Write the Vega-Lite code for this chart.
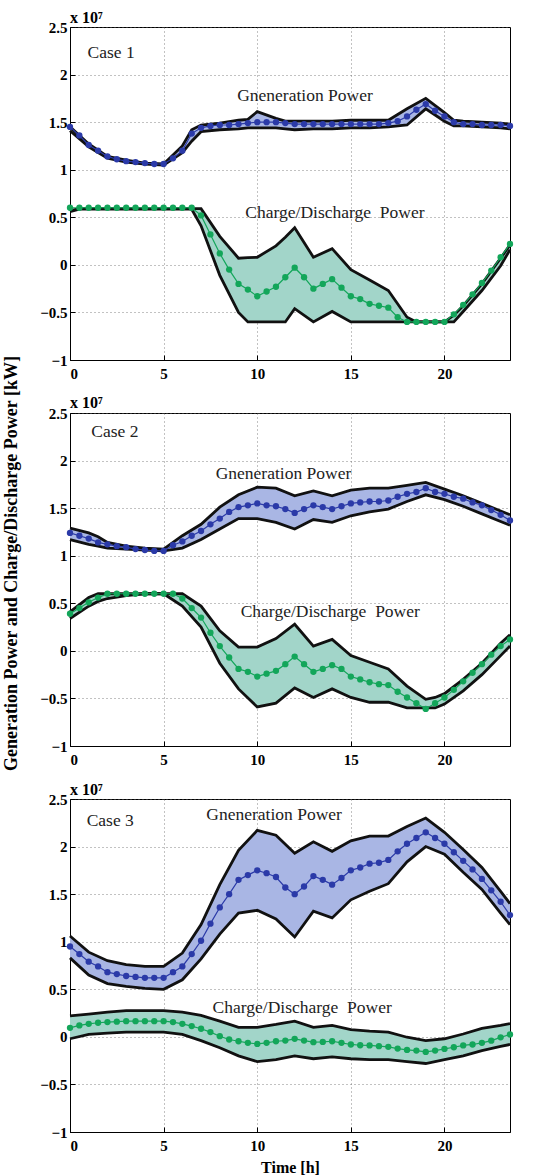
{
  "$schema": "https://vega.github.io/schema/vega-lite/v6.json",
  "padding": {"left": 2, "top": 9, "right": 5, "bottom": 2},
  "background": "white",
  "bounds": "flush",
  "spacing": 53,
  "config": {
    "font": "Liberation Serif",
    "view": {"stroke": "black", "strokeWidth": 1},
    "axis": {
      "labelFont": "Liberation Serif", "labelFontWeight": "bold", "labelFontSize": 15, "labelColor": "black",
      "titleFont": "Liberation Serif", "titleFontWeight": "bold", "titleFontSize": 16, "titleColor": "black",
      "grid": true, "gridColor": "#666", "gridDash": [1, 3], "gridWidth": 0.8,
      "domainColor": "black", "tickColor": "black", "tickSize": -5, "labelPadding": 8
    },
    "axisX": {"labelPadding": 11},
    "title": {"font": "Liberation Serif", "fontSize": 16, "fontWeight": "bold", "anchor": "start", "frame": "group", "color": "black", "offset": -6}
  },
  "datasets": {
    "band": [
      {"c":1,"s":"g","t":0,"lo":1.41,"hi":1.45},{"c":1,"s":"g","t":1,"lo":1.24,"hi":1.27},{"c":1,"s":"g","t":2,"lo":1.12,"hi":1.14},{"c":1,"s":"g","t":3,"lo":1.08,"hi":1.10},{"c":1,"s":"g","t":4,"lo":1.06,"hi":1.07},{"c":1,"s":"g","t":5,"lo":1.05,"hi":1.06},{"c":1,"s":"g","t":6,"lo":1.18,"hi":1.25},{"c":1,"s":"g","t":6.5,"lo":1.30,"hi":1.42},{"c":1,"s":"g","t":7,"lo":1.40,"hi":1.47},{"c":1,"s":"g","t":8,"lo":1.42,"hi":1.49},{"c":1,"s":"g","t":9,"lo":1.43,"hi":1.52},{"c":1,"s":"g","t":9.5,"lo":1.44,"hi":1.53},{"c":1,"s":"g","t":10,"lo":1.44,"hi":1.61},{"c":1,"s":"g","t":11,"lo":1.44,"hi":1.54},{"c":1,"s":"g","t":11.5,"lo":1.43,"hi":1.51},{"c":1,"s":"g","t":12,"lo":1.42,"hi":1.51},{"c":1,"s":"g","t":13,"lo":1.43,"hi":1.51},{"c":1,"s":"g","t":14,"lo":1.43,"hi":1.51},{"c":1,"s":"g","t":15,"lo":1.44,"hi":1.52},{"c":1,"s":"g","t":16,"lo":1.44,"hi":1.52},{"c":1,"s":"g","t":17,"lo":1.45,"hi":1.52},{"c":1,"s":"g","t":18,"lo":1.47,"hi":1.64},{"c":1,"s":"g","t":19,"lo":1.64,"hi":1.75},{"c":1,"s":"g","t":20,"lo":1.51,"hi":1.60},{"c":1,"s":"g","t":20.5,"lo":1.46,"hi":1.52},{"c":1,"s":"g","t":21,"lo":1.46,"hi":1.51},{"c":1,"s":"g","t":22,"lo":1.45,"hi":1.50},{"c":1,"s":"g","t":23,"lo":1.44,"hi":1.49},{"c":1,"s":"g","t":23.5,"lo":1.43,"hi":1.48},
      {"c":1,"s":"d","t":0,"lo":0.56,"hi":0.57},{"c":1,"s":"d","t":0.5,"lo":0.585,"hi":0.59},{"c":1,"s":"d","t":6.5,"lo":0.585,"hi":0.59},{"c":1,"s":"d","t":7,"lo":0.41,"hi":0.59},{"c":1,"s":"d","t":8,"lo":-0.11,"hi":0.30},{"c":1,"s":"d","t":9,"lo":-0.50,"hi":0.07},{"c":1,"s":"d","t":9.5,"lo":-0.60,"hi":0.075},{"c":1,"s":"d","t":10,"lo":-0.60,"hi":0.08},{"c":1,"s":"d","t":11,"lo":-0.60,"hi":0.20},{"c":1,"s":"d","t":11.5,"lo":-0.60,"hi":0.29},{"c":1,"s":"d","t":12,"lo":-0.46,"hi":0.39},{"c":1,"s":"d","t":13,"lo":-0.60,"hi":0.08},{"c":1,"s":"d","t":14,"lo":-0.49,"hi":0.17},{"c":1,"s":"d","t":15,"lo":-0.60,"hi":-0.05},{"c":1,"s":"d","t":16,"lo":-0.60,"hi":-0.16},{"c":1,"s":"d","t":17,"lo":-0.60,"hi":-0.27},{"c":1,"s":"d","t":18,"lo":-0.60,"hi":-0.55},{"c":1,"s":"d","t":18.5,"lo":-0.60,"hi":-0.60},{"c":1,"s":"d","t":20,"lo":-0.60,"hi":-0.60},{"c":1,"s":"d","t":20.5,"lo":-0.60,"hi":-0.53},{"c":1,"s":"d","t":21,"lo":-0.49,"hi":-0.43},{"c":1,"s":"d","t":22,"lo":-0.27,"hi":-0.20},{"c":1,"s":"d","t":23,"lo":-0.01,"hi":0.07},{"c":1,"s":"d","t":23.5,"lo":0.16,"hi":0.21},
      {"c":2,"s":"g","t":0,"lo":1.17,"hi":1.29},{"c":2,"s":"g","t":1,"lo":1.12,"hi":1.24},{"c":2,"s":"g","t":1.5,"lo":1.10,"hi":1.20},{"c":2,"s":"g","t":2,"lo":1.08,"hi":1.14},{"c":2,"s":"g","t":3,"lo":1.07,"hi":1.10},{"c":2,"s":"g","t":4,"lo":1.06,"hi":1.08},{"c":2,"s":"g","t":5,"lo":1.05,"hi":1.07},{"c":2,"s":"g","t":6,"lo":1.08,"hi":1.21},{"c":2,"s":"g","t":7,"lo":1.17,"hi":1.33},{"c":2,"s":"g","t":8,"lo":1.28,"hi":1.51},{"c":2,"s":"g","t":9,"lo":1.39,"hi":1.64},{"c":2,"s":"g","t":10,"lo":1.39,"hi":1.72},{"c":2,"s":"g","t":11,"lo":1.35,"hi":1.71},{"c":2,"s":"g","t":12,"lo":1.28,"hi":1.63},{"c":2,"s":"g","t":13,"lo":1.38,"hi":1.68},{"c":2,"s":"g","t":14,"lo":1.35,"hi":1.63},{"c":2,"s":"g","t":15,"lo":1.42,"hi":1.69},{"c":2,"s":"g","t":16,"lo":1.46,"hi":1.71},{"c":2,"s":"g","t":17,"lo":1.49,"hi":1.71},{"c":2,"s":"g","t":18,"lo":1.57,"hi":1.74},{"c":2,"s":"g","t":19,"lo":1.64,"hi":1.77},{"c":2,"s":"g","t":20,"lo":1.59,"hi":1.70},{"c":2,"s":"g","t":21,"lo":1.52,"hi":1.63},{"c":2,"s":"g","t":22,"lo":1.44,"hi":1.55},{"c":2,"s":"g","t":23,"lo":1.36,"hi":1.47},{"c":2,"s":"g","t":23.5,"lo":1.32,"hi":1.43},
      {"c":2,"s":"d","t":0,"lo":0.34,"hi":0.41},{"c":2,"s":"d","t":1,"lo":0.47,"hi":0.56},{"c":2,"s":"d","t":1.5,"lo":0.52,"hi":0.60},{"c":2,"s":"d","t":2,"lo":0.55,"hi":0.60},{"c":2,"s":"d","t":3,"lo":0.58,"hi":0.60},{"c":2,"s":"d","t":4,"lo":0.60,"hi":0.60},{"c":2,"s":"d","t":5,"lo":0.60,"hi":0.60},{"c":2,"s":"d","t":6,"lo":0.47,"hi":0.60},{"c":2,"s":"d","t":7,"lo":0.25,"hi":0.47},{"c":2,"s":"d","t":8,"lo":-0.13,"hi":0.21},{"c":2,"s":"d","t":9,"lo":-0.40,"hi":0.04},{"c":2,"s":"d","t":10,"lo":-0.59,"hi":0.04},{"c":2,"s":"d","t":11,"lo":-0.55,"hi":0.13},{"c":2,"s":"d","t":12,"lo":-0.39,"hi":0.28},{"c":2,"s":"d","t":13,"lo":-0.49,"hi":0.05},{"c":2,"s":"d","t":14,"lo":-0.40,"hi":0.12},{"c":2,"s":"d","t":15,"lo":-0.49,"hi":-0.05},{"c":2,"s":"d","t":16,"lo":-0.54,"hi":-0.12},{"c":2,"s":"d","t":17,"lo":-0.54,"hi":-0.19},{"c":2,"s":"d","t":18,"lo":-0.60,"hi":-0.37},{"c":2,"s":"d","t":19,"lo":-0.60,"hi":-0.51},{"c":2,"s":"d","t":19.5,"lo":-0.60,"hi":-0.49},{"c":2,"s":"d","t":20,"lo":-0.56,"hi":-0.45},{"c":2,"s":"d","t":21,"lo":-0.42,"hi":-0.30},{"c":2,"s":"d","t":22,"lo":-0.25,"hi":-0.13},{"c":2,"s":"d","t":23,"lo":-0.05,"hi":0.08},{"c":2,"s":"d","t":23.5,"lo":0.05,"hi":0.17},
      {"c":3,"s":"g","t":0,"lo":0.83,"hi":1.06},{"c":3,"s":"g","t":1,"lo":0.65,"hi":0.89},{"c":3,"s":"g","t":2,"lo":0.56,"hi":0.80},{"c":3,"s":"g","t":3,"lo":0.53,"hi":0.76},{"c":3,"s":"g","t":4,"lo":0.51,"hi":0.74},{"c":3,"s":"g","t":5,"lo":0.50,"hi":0.74},{"c":3,"s":"g","t":6,"lo":0.60,"hi":0.88},{"c":3,"s":"g","t":7,"lo":0.82,"hi":1.18},{"c":3,"s":"g","t":8,"lo":1.08,"hi":1.60},{"c":3,"s":"g","t":9,"lo":1.30,"hi":1.96},{"c":3,"s":"g","t":10,"lo":1.33,"hi":2.17},{"c":3,"s":"g","t":11,"lo":1.24,"hi":2.12},{"c":3,"s":"g","t":12,"lo":1.05,"hi":1.93},{"c":3,"s":"g","t":13,"lo":1.32,"hi":2.05},{"c":3,"s":"g","t":14,"lo":1.25,"hi":1.95},{"c":3,"s":"g","t":15,"lo":1.44,"hi":2.06},{"c":3,"s":"g","t":16,"lo":1.53,"hi":2.11},{"c":3,"s":"g","t":17,"lo":1.61,"hi":2.11},{"c":3,"s":"g","t":18,"lo":1.84,"hi":2.21},{"c":3,"s":"g","t":19,"lo":2.00,"hi":2.30},{"c":3,"s":"g","t":20,"lo":1.92,"hi":2.15},{"c":3,"s":"g","t":21,"lo":1.73,"hi":1.97},{"c":3,"s":"g","t":22,"lo":1.55,"hi":1.78},{"c":3,"s":"g","t":23,"lo":1.30,"hi":1.53},{"c":3,"s":"g","t":23.5,"lo":1.18,"hi":1.40},
      {"c":3,"s":"d","t":0,"lo":-0.02,"hi":0.22},{"c":3,"s":"d","t":1,"lo":0.025,"hi":0.24},{"c":3,"s":"d","t":2,"lo":0.04,"hi":0.26},{"c":3,"s":"d","t":3,"lo":0.05,"hi":0.275},{"c":3,"s":"d","t":5,"lo":0.05,"hi":0.275},{"c":3,"s":"d","t":6,"lo":0.025,"hi":0.26},{"c":3,"s":"d","t":7,"lo":-0.04,"hi":0.225},{"c":3,"s":"d","t":8,"lo":-0.115,"hi":0.165},{"c":3,"s":"d","t":9,"lo":-0.20,"hi":0.10},{"c":3,"s":"d","t":10,"lo":-0.26,"hi":0.10},{"c":3,"s":"d","t":11,"lo":-0.24,"hi":0.13},{"c":3,"s":"d","t":12,"lo":-0.20,"hi":0.165},{"c":3,"s":"d","t":13,"lo":-0.23,"hi":0.10},{"c":3,"s":"d","t":14,"lo":-0.21,"hi":0.12},{"c":3,"s":"d","t":15,"lo":-0.23,"hi":0.077},{"c":3,"s":"d","t":16,"lo":-0.24,"hi":0.06},{"c":3,"s":"d","t":17,"lo":-0.24,"hi":0.05},{"c":3,"s":"d","t":18,"lo":-0.26,"hi":-0.004},{"c":3,"s":"d","t":19,"lo":-0.28,"hi":-0.04},{"c":3,"s":"d","t":20,"lo":-0.24,"hi":-0.02},{"c":3,"s":"d","t":21,"lo":-0.20,"hi":0.03},{"c":3,"s":"d","t":22,"lo":-0.145,"hi":0.09},{"c":3,"s":"d","t":23,"lo":-0.10,"hi":0.12},{"c":3,"s":"d","t":23.5,"lo":-0.08,"hi":0.14}
    ],
    "avg": [
      {"c":1,"t":0,"g":1.45,"d":0.6},{"c":1,"t":0.5,"g":1.36,"d":0.6},{"c":1,"t":1,"g":1.26,"d":0.6},{"c":1,"t":1.5,"g":1.20,"d":0.6},{"c":1,"t":2,"g":1.14,"d":0.6},{"c":1,"t":2.5,"g":1.11,"d":0.6},{"c":1,"t":3,"g":1.09,"d":0.6},{"c":1,"t":3.5,"g":1.08,"d":0.6},{"c":1,"t":4,"g":1.07,"d":0.6},{"c":1,"t":4.5,"g":1.06,"d":0.6},{"c":1,"t":5,"g":1.06,"d":0.6},{"c":1,"t":5.5,"g":1.12,"d":0.6},{"c":1,"t":6,"g":1.20,"d":0.6},{"c":1,"t":6.5,"g":1.38,"d":0.6},{"c":1,"t":7,"g":1.44,"d":0.52},{"c":1,"t":7.5,"g":1.46,"d":0.32},{"c":1,"t":8,"g":1.47,"d":0.12},{"c":1,"t":8.5,"g":1.47,"d":-0.05},{"c":1,"t":9,"g":1.48,"d":-0.20},{"c":1,"t":9.5,"g":1.49,"d":-0.26},{"c":1,"t":10,"g":1.50,"d":-0.33},{"c":1,"t":10.5,"g":1.50,"d":-0.28},{"c":1,"t":11,"g":1.50,"d":-0.23},{"c":1,"t":11.5,"g":1.49,"d":-0.13},{"c":1,"t":12,"g":1.48,"d":-0.03},{"c":1,"t":12.5,"g":1.48,"d":-0.13},{"c":1,"t":13,"g":1.48,"d":-0.25},{"c":1,"t":13.5,"g":1.48,"d":-0.20},{"c":1,"t":14,"g":1.48,"d":-0.15},{"c":1,"t":14.5,"g":1.48,"d":-0.24},{"c":1,"t":15,"g":1.48,"d":-0.33},{"c":1,"t":15.5,"g":1.48,"d":-0.36},{"c":1,"t":16,"g":1.48,"d":-0.41},{"c":1,"t":16.5,"g":1.48,"d":-0.43},{"c":1,"t":17,"g":1.49,"d":-0.45},{"c":1,"t":17.5,"g":1.51,"d":-0.55},{"c":1,"t":18,"g":1.56,"d":-0.60},{"c":1,"t":18.5,"g":1.63,"d":-0.60},{"c":1,"t":19,"g":1.69,"d":-0.60},{"c":1,"t":19.5,"g":1.62,"d":-0.60},{"c":1,"t":20,"g":1.56,"d":-0.60},{"c":1,"t":20.5,"g":1.50,"d":-0.52},{"c":1,"t":21,"g":1.48,"d":-0.42},{"c":1,"t":21.5,"g":1.48,"d":-0.31},{"c":1,"t":22,"g":1.47,"d":-0.19},{"c":1,"t":22.5,"g":1.47,"d":-0.06},{"c":1,"t":23,"g":1.47,"d":0.08},{"c":1,"t":23.5,"g":1.46,"d":0.22},
      {"c":2,"t":0,"g":1.24,"d":0.39},{"c":2,"t":0.5,"g":1.21,"d":0.45},{"c":2,"t":1,"g":1.18,"d":0.51},{"c":2,"t":1.5,"g":1.14,"d":0.56},{"c":2,"t":2,"g":1.12,"d":0.60},{"c":2,"t":2.5,"g":1.10,"d":0.60},{"c":2,"t":3,"g":1.09,"d":0.60},{"c":2,"t":3.5,"g":1.07,"d":0.60},{"c":2,"t":4,"g":1.06,"d":0.60},{"c":2,"t":4.5,"g":1.05,"d":0.60},{"c":2,"t":5,"g":1.05,"d":0.60},{"c":2,"t":5.5,"g":1.11,"d":0.60},{"c":2,"t":6,"g":1.15,"d":0.55},{"c":2,"t":6.5,"g":1.21,"d":0.45},{"c":2,"t":7,"g":1.26,"d":0.35},{"c":2,"t":7.5,"g":1.33,"d":0.19},{"c":2,"t":8,"g":1.39,"d":0.05},{"c":2,"t":8.5,"g":1.46,"d":-0.07},{"c":2,"t":9,"g":1.51,"d":-0.19},{"c":2,"t":9.5,"g":1.53,"d":-0.22},{"c":2,"t":10,"g":1.55,"d":-0.27},{"c":2,"t":10.5,"g":1.53,"d":-0.24},{"c":2,"t":11,"g":1.52,"d":-0.21},{"c":2,"t":11.5,"g":1.49,"d":-0.14},{"c":2,"t":12,"g":1.45,"d":-0.06},{"c":2,"t":12.5,"g":1.49,"d":-0.14},{"c":2,"t":13,"g":1.53,"d":-0.22},{"c":2,"t":13.5,"g":1.51,"d":-0.19},{"c":2,"t":14,"g":1.49,"d":-0.15},{"c":2,"t":14.5,"g":1.52,"d":-0.19},{"c":2,"t":15,"g":1.55,"d":-0.27},{"c":2,"t":15.5,"g":1.56,"d":-0.30},{"c":2,"t":16,"g":1.57,"d":-0.33},{"c":2,"t":16.5,"g":1.57,"d":-0.35},{"c":2,"t":17,"g":1.58,"d":-0.36},{"c":2,"t":17.5,"g":1.62,"d":-0.43},{"c":2,"t":18,"g":1.65,"d":-0.49},{"c":2,"t":18.5,"g":1.67,"d":-0.55},{"c":2,"t":19,"g":1.71,"d":-0.61},{"c":2,"t":19.5,"g":1.67,"d":-0.55},{"c":2,"t":20,"g":1.65,"d":-0.49},{"c":2,"t":20.5,"g":1.62,"d":-0.41},{"c":2,"t":21,"g":1.60,"d":-0.32},{"c":2,"t":21.5,"g":1.56,"d":-0.23},{"c":2,"t":22,"g":1.53,"d":-0.14},{"c":2,"t":22.5,"g":1.48,"d":-0.04},{"c":2,"t":23,"g":1.43,"d":0.05},{"c":2,"t":23.5,"g":1.37,"d":0.12},
      {"c":3,"t":0,"g":0.95,"d":0.095},{"c":3,"t":0.5,"g":0.87,"d":0.12},{"c":3,"t":1,"g":0.79,"d":0.137},{"c":3,"t":1.5,"g":0.74,"d":0.148},{"c":3,"t":2,"g":0.68,"d":0.155},{"c":3,"t":2.5,"g":0.66,"d":0.16},{"c":3,"t":3,"g":0.64,"d":0.165},{"c":3,"t":3.5,"g":0.63,"d":0.165},{"c":3,"t":4,"g":0.62,"d":0.165},{"c":3,"t":4.5,"g":0.62,"d":0.165},{"c":3,"t":5,"g":0.62,"d":0.165},{"c":3,"t":5.5,"g":0.68,"d":0.155},{"c":3,"t":6,"g":0.74,"d":0.137},{"c":3,"t":6.5,"g":0.87,"d":0.113},{"c":3,"t":7,"g":1.01,"d":0.085},{"c":3,"t":7.5,"g":1.19,"d":0.05},{"c":3,"t":8,"g":1.36,"d":0.007},{"c":3,"t":8.5,"g":1.50,"d":-0.028},{"c":3,"t":9,"g":1.65,"d":-0.046},{"c":3,"t":9.5,"g":1.70,"d":-0.063},{"c":3,"t":10,"g":1.75,"d":-0.074},{"c":3,"t":10.5,"g":1.72,"d":-0.063},{"c":3,"t":11,"g":1.68,"d":-0.046},{"c":3,"t":11.5,"g":1.57,"d":-0.039},{"c":3,"t":12,"g":1.50,"d":-0.021},{"c":3,"t":12.5,"g":1.58,"d":-0.039},{"c":3,"t":13,"g":1.69,"d":-0.056},{"c":3,"t":13.5,"g":1.65,"d":-0.053},{"c":3,"t":14,"g":1.60,"d":-0.046},{"c":3,"t":14.5,"g":1.67,"d":-0.063},{"c":3,"t":15,"g":1.75,"d":-0.08},{"c":3,"t":15.5,"g":1.78,"d":-0.088},{"c":3,"t":16,"g":1.82,"d":-0.09},{"c":3,"t":16.5,"g":1.83,"d":-0.098},{"c":3,"t":17,"g":1.86,"d":-0.105},{"c":3,"t":17.5,"g":1.95,"d":-0.123},{"c":3,"t":18,"g":2.03,"d":-0.137},{"c":3,"t":18.5,"g":2.09,"d":-0.144},{"c":3,"t":19,"g":2.15,"d":-0.158},{"c":3,"t":19.5,"g":2.09,"d":-0.144},{"c":3,"t":20,"g":2.03,"d":-0.127},{"c":3,"t":20.5,"g":1.94,"d":-0.109},{"c":3,"t":21,"g":1.85,"d":-0.09},{"c":3,"t":21.5,"g":1.76,"d":-0.08},{"c":3,"t":22,"g":1.66,"d":-0.063},{"c":3,"t":22.5,"g":1.54,"d":-0.04},{"c":3,"t":23,"g":1.42,"d":-0.005},{"c":3,"t":23.5,"g":1.28,"d":0.025}
    ],
    "notes": [
      {"c":1,"t":2.2,"v":2.23,"text":"Case 1"},{"c":1,"t":12.55,"v":1.77,"text":"Gneneration Power"},{"c":1,"t":14.15,"v":0.54,"text":"Charge/Discharge\u00a0 Power"},
      {"c":2,"t":2.4,"v":2.3,"text":"Case 2"},{"c":2,"t":11.4,"v":1.86,"text":"Gneneration Power"},{"c":2,"t":13.9,"v":0.41,"text":"Charge/Discharge\u00a0 Power"},
      {"c":3,"t":2.15,"v":2.27,"text":"Case 3"},{"c":3,"t":10.9,"v":2.33,"text":"Gneneration Power"},{"c":3,"t":12.4,"v":0.30,"text":"Charge/Discharge\u00a0 Power"}
    ]
  },
  "vconcat": [
    {
      "width": 440, "height": 333,
      "title": {"text": "x 10⁷"},
      "layer": [
        {"data": {"name": "band"}, "transform": [{"filter": "datum.c == 1"}],
         "mark": {"type": "area", "opacity": 1},
         "encoding": {
           "x": {"field": "t", "type": "quantitative", "scale": {"domain": [0, 23.5], "nice": false, "zero": false}, "axis": {"title": null, "values": [0, 5, 10, 15, 20], "format": "d"}},
           "y": {"field": "lo", "type": "quantitative", "scale": {"domain": [-1, 2.5], "nice": false}, "axis": {"title": null, "values": [-1, -0.5, 0, 0.5, 1, 1.5, 2, 2.5], "format": "~g"}},
           "y2": {"field": "hi"},
           "fill": {"field": "s", "type": "nominal", "scale": {"domain": ["g", "d"], "range": ["#a9b6e4", "#a2d5c9"]}, "legend": null}}},
        {"data": {"name": "band"}, "transform": [{"filter": "datum.c == 1"}],
         "mark": {"type": "line", "color": "#111", "strokeWidth": 2.8},
         "encoding": {"x": {"field": "t", "type": "quantitative"}, "y": {"field": "lo", "type": "quantitative"}, "detail": {"field": "s"}}},
        {"data": {"name": "band"}, "transform": [{"filter": "datum.c == 1"}],
         "mark": {"type": "line", "color": "#111", "strokeWidth": 2.8},
         "encoding": {"x": {"field": "t", "type": "quantitative"}, "y": {"field": "hi", "type": "quantitative"}, "detail": {"field": "s"}}},
        {"data": {"name": "avg"}, "transform": [{"filter": "datum.c == 1"}, {"fold": ["g", "d"], "as": ["s", "v"]}],
         "mark": {"type": "line", "strokeWidth": 1.2, "point": {"filled": true, "size": 40, "opacity": 1}},
         "encoding": {"x": {"field": "t", "type": "quantitative"}, "y": {"field": "v", "type": "quantitative"},
           "color": {"field": "s", "type": "nominal", "scale": {"domain": ["g", "d"], "range": ["#2b3aa8", "#13a65a"]}, "legend": null}}},
        {"data": {"name": "notes"}, "transform": [{"filter": "datum.c == 1"}],
         "mark": {"type": "text", "font": "Liberation Serif", "fontSize": 17.5, "color": "#222", "align": "center", "baseline": "middle"},
         "encoding": {"x": {"field": "t", "type": "quantitative"}, "y": {"field": "v", "type": "quantitative"}, "text": {"field": "text"}}}
      ]
    },
    {
      "width": 440, "height": 333,
      "title": {"text": "x 10⁷", "offset": -56},
      "layer": [
        {"data": {"name": "band"}, "transform": [{"filter": "datum.c == 2"}],
         "mark": {"type": "area", "opacity": 1},
         "encoding": {
           "x": {"field": "t", "type": "quantitative", "scale": {"domain": [0, 23.5], "nice": false, "zero": false}, "axis": {"title": null, "values": [0, 5, 10, 15, 20], "format": "d"}},
           "y": {"field": "lo", "type": "quantitative", "scale": {"domain": [-1, 2.5], "nice": false}, "axis": {"title": "Generation Power and Charge/Discharge Power [kW]", "titleFontSize": 18, "titlePadding": 19, "titleY": 150, "values": [-1, -0.5, 0, 0.5, 1, 1.5, 2, 2.5], "format": "~g"}},
           "y2": {"field": "hi"},
           "fill": {"field": "s", "type": "nominal", "scale": {"domain": ["g", "d"], "range": ["#a9b6e4", "#a2d5c9"]}, "legend": null}}},
        {"data": {"name": "band"}, "transform": [{"filter": "datum.c == 2"}],
         "mark": {"type": "line", "color": "#111", "strokeWidth": 2.8},
         "encoding": {"x": {"field": "t", "type": "quantitative"}, "y": {"field": "lo", "type": "quantitative"}, "detail": {"field": "s"}}},
        {"data": {"name": "band"}, "transform": [{"filter": "datum.c == 2"}],
         "mark": {"type": "line", "color": "#111", "strokeWidth": 2.8},
         "encoding": {"x": {"field": "t", "type": "quantitative"}, "y": {"field": "hi", "type": "quantitative"}, "detail": {"field": "s"}}},
        {"data": {"name": "avg"}, "transform": [{"filter": "datum.c == 2"}, {"fold": ["g", "d"], "as": ["s", "v"]}],
         "mark": {"type": "line", "strokeWidth": 1.2, "point": {"filled": true, "size": 40, "opacity": 1}},
         "encoding": {"x": {"field": "t", "type": "quantitative"}, "y": {"field": "v", "type": "quantitative"},
           "color": {"field": "s", "type": "nominal", "scale": {"domain": ["g", "d"], "range": ["#2b3aa8", "#13a65a"]}, "legend": null}}},
        {"data": {"name": "notes"}, "transform": [{"filter": "datum.c == 2"}],
         "mark": {"type": "text", "font": "Liberation Serif", "fontSize": 17.5, "color": "#222", "align": "center", "baseline": "middle"},
         "encoding": {"x": {"field": "t", "type": "quantitative"}, "y": {"field": "v", "type": "quantitative"}, "text": {"field": "text"}}}
      ]
    },
    {
      "width": 440, "height": 333,
      "title": {"text": "x 10⁷"},
      "layer": [
        {"data": {"name": "band"}, "transform": [{"filter": "datum.c == 3"}],
         "mark": {"type": "area", "opacity": 1},
         "encoding": {
           "x": {"field": "t", "type": "quantitative", "scale": {"domain": [0, 23.5], "nice": false, "zero": false}, "axis": {"title": "Time [h]", "titlePadding": 6, "values": [0, 5, 10, 15, 20], "format": "d"}},
           "y": {"field": "lo", "type": "quantitative", "scale": {"domain": [-1, 2.5], "nice": false}, "axis": {"title": null, "values": [-1, -0.5, 0, 0.5, 1, 1.5, 2, 2.5], "format": "~g"}},
           "y2": {"field": "hi"},
           "fill": {"field": "s", "type": "nominal", "scale": {"domain": ["g", "d"], "range": ["#a9b6e4", "#a2d5c9"]}, "legend": null}}},
        {"data": {"name": "band"}, "transform": [{"filter": "datum.c == 3"}],
         "mark": {"type": "line", "color": "#111", "strokeWidth": 2.8},
         "encoding": {"x": {"field": "t", "type": "quantitative"}, "y": {"field": "lo", "type": "quantitative"}, "detail": {"field": "s"}}},
        {"data": {"name": "band"}, "transform": [{"filter": "datum.c == 3"}],
         "mark": {"type": "line", "color": "#111", "strokeWidth": 2.8},
         "encoding": {"x": {"field": "t", "type": "quantitative"}, "y": {"field": "hi", "type": "quantitative"}, "detail": {"field": "s"}}},
        {"data": {"name": "avg"}, "transform": [{"filter": "datum.c == 3"}, {"fold": ["g", "d"], "as": ["s", "v"]}],
         "mark": {"type": "line", "strokeWidth": 1.2, "point": {"filled": true, "size": 40, "opacity": 1}},
         "encoding": {"x": {"field": "t", "type": "quantitative"}, "y": {"field": "v", "type": "quantitative"},
           "color": {"field": "s", "type": "nominal", "scale": {"domain": ["g", "d"], "range": ["#2b3aa8", "#13a65a"]}, "legend": null}}},
        {"data": {"name": "notes"}, "transform": [{"filter": "datum.c == 3"}],
         "mark": {"type": "text", "font": "Liberation Serif", "fontSize": 17.5, "color": "#222", "align": "center", "baseline": "middle"},
         "encoding": {"x": {"field": "t", "type": "quantitative"}, "y": {"field": "v", "type": "quantitative"}, "text": {"field": "text"}}}
      ]
    }
  ]
}
